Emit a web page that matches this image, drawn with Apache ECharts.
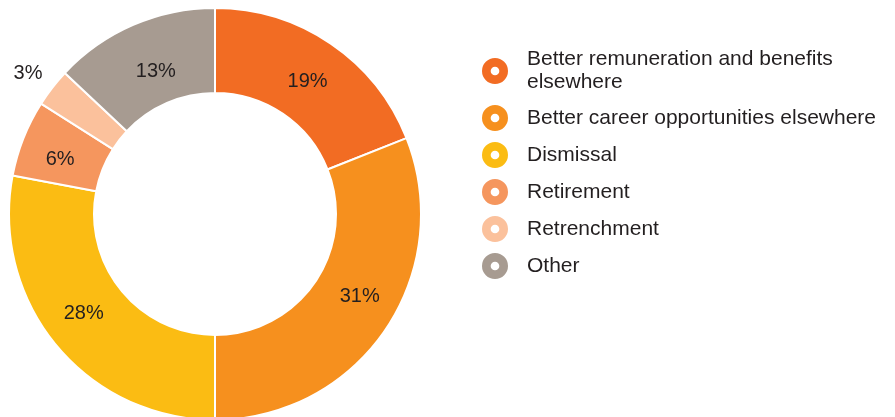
<!DOCTYPE html>
<html>
<head>
<meta charset="utf-8">
<script src="https://cdn.jsdelivr.net/npm/echarts@6/dist/echarts.min.js"></script>
<style>
html,body{margin:0;padding:0;background:#fff;}
#c{width:895px;height:417px;}
</style>
</head>
<body>
<div id="c"></div>
<script>
const categories = [
  'Better remuneration and benefits\nelsewhere',
  'Better career opportunities elsewhere',
  'Dismissal',
  'Retirement',
  'Retrenchment',
  'Other'
];
const values = [19, 31, 28, 6, 3, 13];
const colors = ['#F26C23', '#F6901E', '#FBBC13', '#F5965E', '#FBC19C', '#A79B91'];
const outsideLabels = [false, false, false, false, true, false];
// small label nudges (pixels) to mimic the original label placement
const labelNudge = [[-1, 5], [7, -11], [-3, -7], [0, 7], [15, 1], [7, 10]];

const ring = 'path://M12,0 A12,12 0 1,1 12,24 A12,12 0 1,1 12,0 Z M12,8 A4,4 0 1,0 12,16 A4,4 0 1,0 12,8 Z';
const FONT = "'Liberation Sans', Arial, sans-serif";

const chart = echarts.init(document.getElementById('c'), null, {renderer: 'canvas'});
const data = categories.map((name, i) => {
  const d = {name: name, value: values[i], itemStyle: {color: colors[i]}};
  if (outsideLabels[i]) {
    d.label = {position: 'outside'};
    d.labelLine = {show: false, length: 25, length2: 0};
  }
  return d;
});
chart.setOption({
  animation: false,
  legend: {
    orient: 'vertical',
    left: 477,
    top: 43,
    itemWidth: 26,
    itemHeight: 26,
    itemGap: 11,
    icon: ring,
    selectedMode: false,
    itemStyle: {borderWidth: 0},
    textStyle: {
      fontFamily: FONT,
      fontSize: 21,
      color: '#231F20',
      lineHeight: 23,
      padding: [0, 0, 0, 14]
    },
    data: categories
  },
  series: [{
    type: 'pie',
    center: [215, 214],
    radius: [121, 206],
    startAngle: 90,
    clockwise: true,
    avoidLabelOverlap: false,
    itemStyle: {borderColor: '#fff', borderWidth: 2},
    label: {
      show: true,
      position: 'inside',
      formatter: '{c}%',
      fontFamily: FONT,
      fontSize: 20,
      color: '#231F20'
    },
    labelLine: {show: false},
    labelLayout: function (p) {
      const n = labelNudge[p.dataIndex];
      return {dx: n[0], dy: n[1]};
    },
    emphasis: {disabled: true},
    data: data
  }]
});
</script>
</body>
</html>
